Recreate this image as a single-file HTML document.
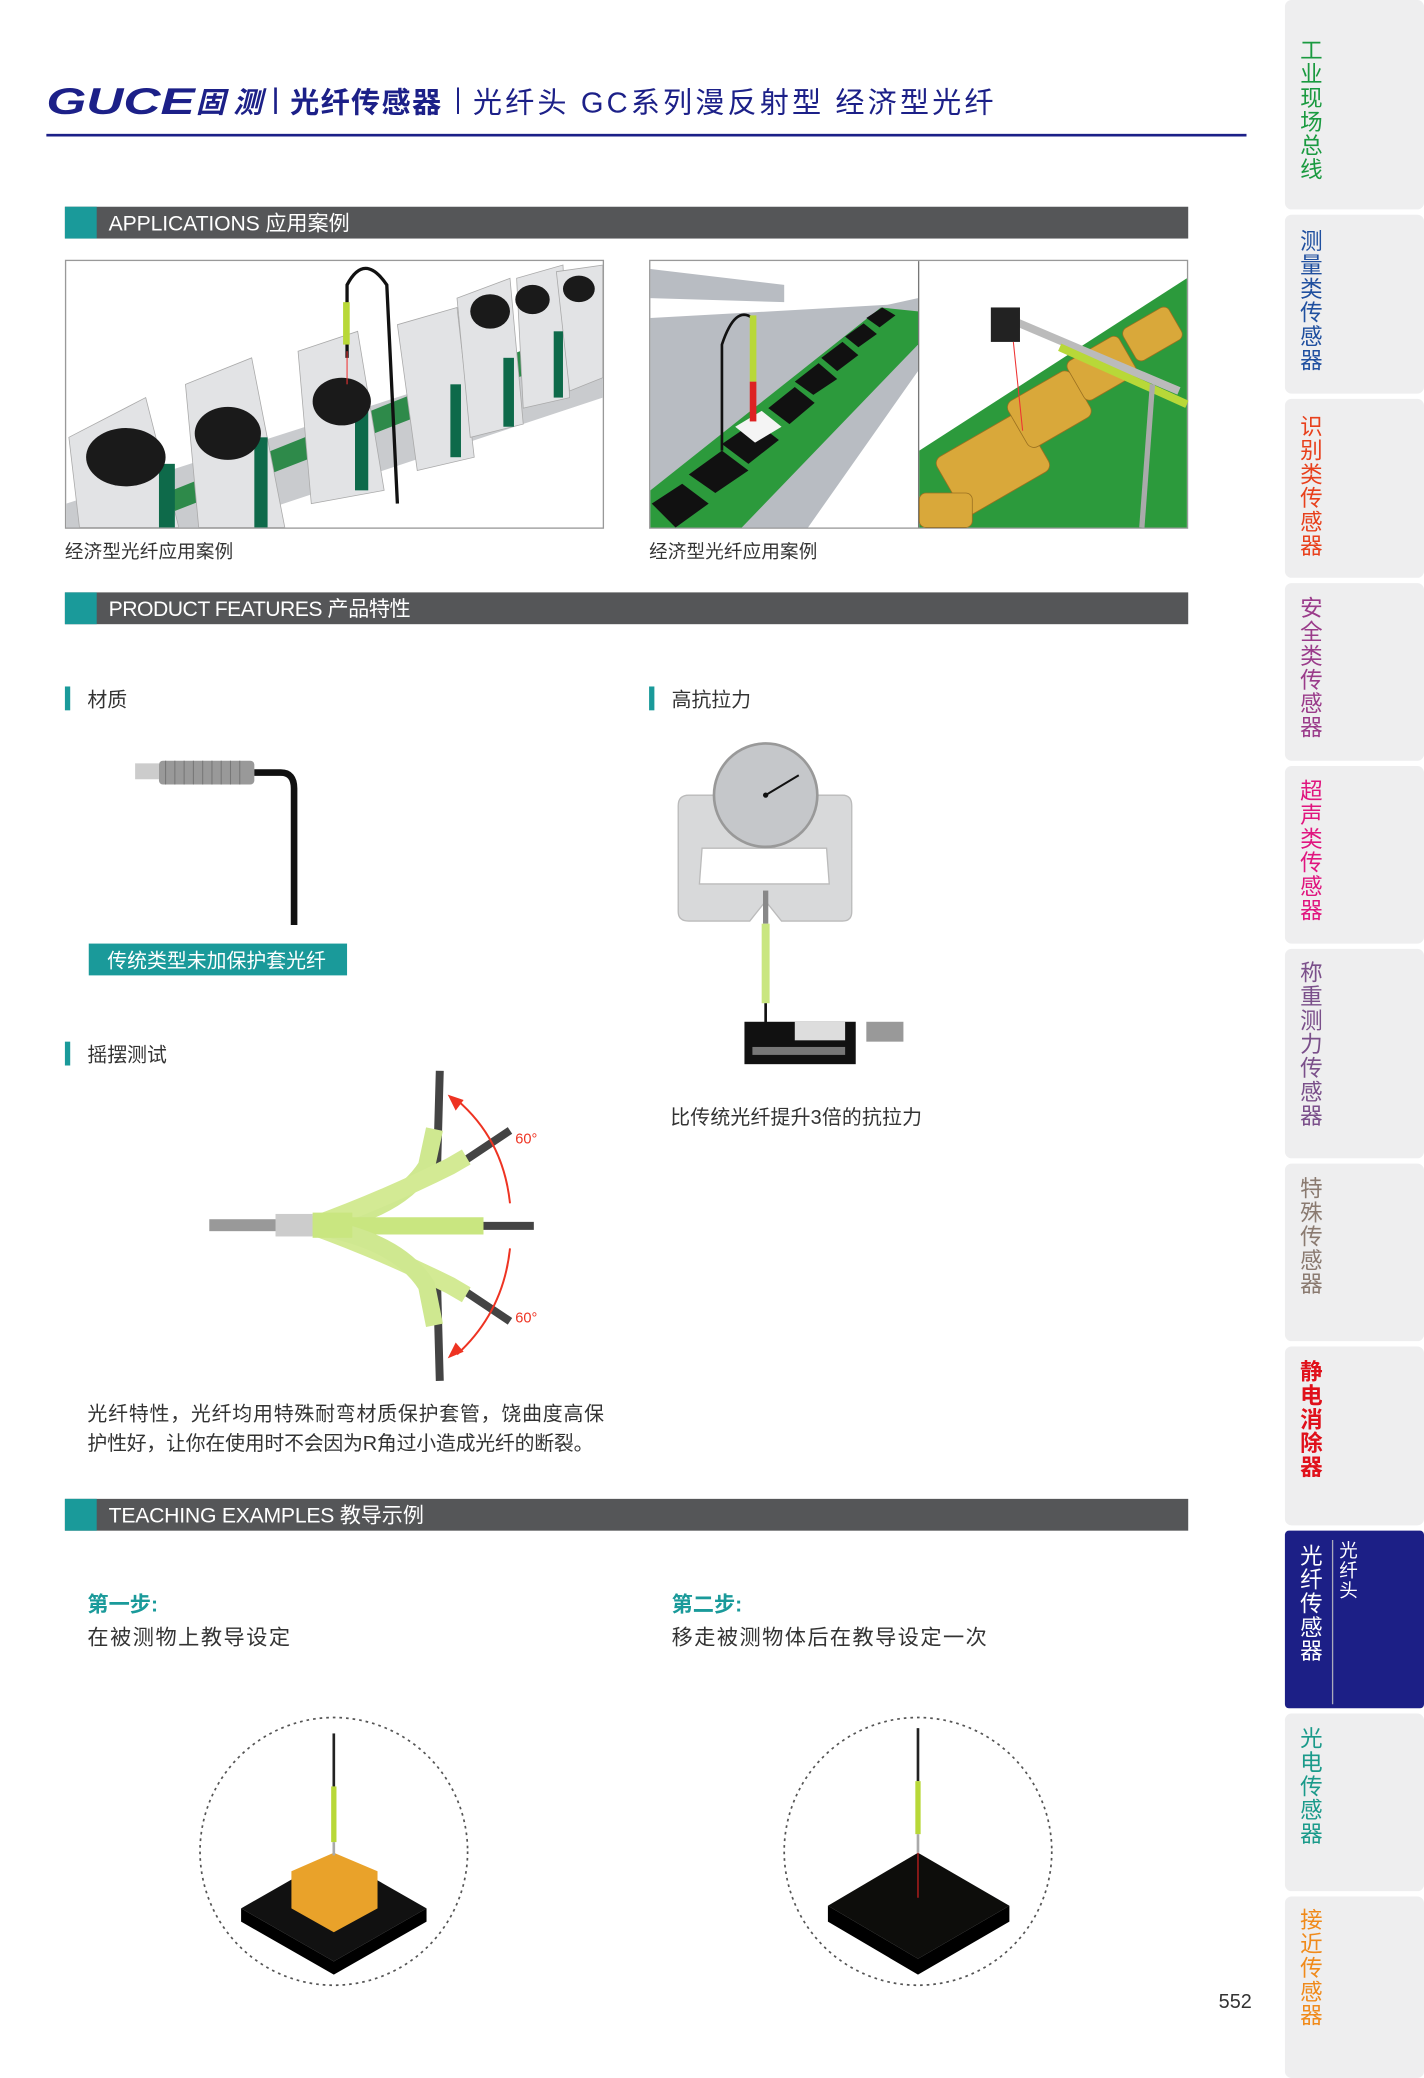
<!DOCTYPE html>
<html><head><meta charset="utf-8"><style>
html,body{margin:0;padding:0;background:#fff;}
svg{display:block;}
text{font-family:"Liberation Sans","Noto Sans CJK SC",sans-serif;}
</style></head><body>
<svg width="1424" height="2078" viewBox="0 0 1075 1568" preserveAspectRatio="none" xmlns="http://www.w3.org/2000/svg">
<rect width="1075" height="1568" fill="#fff"/>
<!-- header -->
<text x="35" y="86" font-size="28" font-weight="bold" font-style="italic" fill="#1c2088" textLength="112" lengthAdjust="spacingAndGlyphs">GUCE</text>
<text x="148" y="85" font-size="22" font-weight="bold" font-style="italic" fill="#1c2088" textLength="50">固测</text>
<rect x="207" y="66" width="2" height="20" fill="#1c2088"/>
<text x="219" y="85" font-size="22" font-weight="bold" fill="#1c2088" textLength="114">光纤传感器</text>
<rect x="345" y="66" width="1.5" height="20" fill="#1c2088"/>
<text x="357" y="85" font-size="22" fill="#1c2088" textLength="393">光纤头 GC系列漫反射型 经济型光纤</text>
<rect x="35" y="101" width="906" height="2" fill="#1c2088"/>

<!-- section bars -->
<g>
<rect x="49" y="156" width="848" height="24" fill="#555658"/><rect x="49" y="156" width="24" height="24" fill="#1a9a9a"/>
<text x="82" y="174" font-size="16" fill="#fff" textLength="182">APPLICATIONS 应用案例</text>
<rect x="49" y="447" width="848" height="24" fill="#555658"/><rect x="49" y="447" width="24" height="24" fill="#1a9a9a"/>
<text x="82" y="465" font-size="16" fill="#fff" textLength="228">PRODUCT FEATURES 产品特性</text>
<rect x="49" y="1131" width="848" height="24" fill="#555658"/><rect x="49" y="1131" width="24" height="24" fill="#1a9a9a"/>
<text x="82" y="1149" font-size="16" fill="#fff" textLength="238">TEACHING EXAMPLES 教导示例</text>
</g>

<!-- app image 1 -->
<rect x="49.5" y="196.5" width="406" height="202" fill="#fff" stroke="#999"/>
<polygon points="50,398 50,380 455,250 455,300 160,398" fill="#c9cbce"/>
<polygon points="60,398 455,240 455,260 100,398" fill="#2e8a4a"/>
<g fill="#e2e3e5" stroke="#aaa" stroke-width="0.6">
<polygon points="52,330 110,300 135,398 60,398"/>
<polygon points="140,290 190,270 215,398 150,398"/>
<polygon points="225,265 270,250 290,370 235,380"/>
<polygon points="300,245 345,232 358,345 315,355"/>
<polygon points="345,225 385,210 395,320 355,330"/>
<polygon points="390,210 425,200 430,300 395,308"/>
<polygon points="420,205 455,200 455,285 430,295"/>
</g>
<g fill="#0e6a4a"><rect x="120" y="350" width="12" height="48"/><rect x="192" y="330" width="10" height="68"/><rect x="268" y="310" width="10" height="60"/><rect x="340" y="290" width="8" height="55"/><rect x="380" y="270" width="8" height="52"/><rect x="418" y="250" width="7" height="50"/></g>
<g fill="#1a1a1a"><ellipse cx="95" cy="345" rx="30" ry="22"/><ellipse cx="172" cy="327" rx="25" ry="20"/><ellipse cx="258" cy="303" rx="22" ry="18"/><ellipse cx="370" cy="235" rx="15" ry="13"/><ellipse cx="402" cy="226" rx="13" ry="11"/><ellipse cx="437" cy="218" rx="12" ry="10"/></g>
<path d="M262,270 L262,215 Q275,190 292,215 L300,380" fill="none" stroke="#111" stroke-width="2.5"/>
<rect x="259" y="228" width="5" height="32" fill="#b8d838"/>
<line x1="262" y1="265" x2="262" y2="290" stroke="#e33" stroke-width="0.8"/>

<!-- app image 2 -->
<rect x="490.5" y="196.5" width="406" height="202" fill="#fff" stroke="#999"/>
<line x1="693.5" y1="197" x2="693.5" y2="398" stroke="#777"/>
<polygon points="491,203 592,215 592,228 491,225" fill="#b8bcc2"/>
<polygon points="491,240 670,230 693,225 693,280 610,398 491,398" fill="#b8bcc2"/>
<polygon points="491,398 491,370 665,232 693,235 693,260 560,398" fill="#2c9a3c"/>
<g fill="#111"><polygon points="492,380 515,365 535,380 510,398"/><polygon points="520,358 545,340 565,355 540,372"/><polygon points="545,335 570,318 588,332 565,350"/><polygon points="580,308 600,292 615,304 596,320"/><polygon points="600,288 618,274 632,286 614,298"/><polygon points="620,270 636,258 648,268 632,280"/><polygon points="638,254 652,244 662,252 648,262"/><polygon points="654,240 666,232 676,238 664,247"/></g>
<polygon points="555,322 575,310 590,322 570,334" fill="#f4f4f4"/>
<path d="M545,340 L545,260 Q555,230 568,240" fill="none" stroke="#111" stroke-width="2"/>
<rect x="566" y="238" width="5" height="50" fill="#b8d838"/>
<rect x="566" y="288" width="5" height="30" fill="#d22"/>
<!-- app image 3 -->
<polygon points="694,340 896,210 896,398 694,398" fill="#2c9a3c"/>
<g fill="#d9a83a" stroke="#9a7020" stroke-width="0.6">
<rect x="712" y="325" width="75" height="50" rx="6" transform="rotate(-30 750 350)"/>
<rect x="765" y="290" width="55" height="40" rx="6" transform="rotate(-30 790 310)"/>
<rect x="810" y="262" width="45" height="34" rx="5" transform="rotate(-30 830 280)"/>
<rect x="850" y="238" width="40" height="28" rx="5" transform="rotate(-30 870 252)"/>
<rect x="694" y="372" width="40" height="26" rx="5"/>
</g>
<line x1="760" y1="240" x2="890" y2="295" stroke="#bbb" stroke-width="6"/>
<line x1="800" y1="262" x2="896" y2="305" stroke="#b8d838" stroke-width="6"/>
<rect x="748" y="232" width="22" height="26" fill="#222"/>
<line x1="870" y1="290" x2="862" y2="398" stroke="#aaa" stroke-width="4"/>
<line x1="765" y1="258" x2="772" y2="325" stroke="#e33" stroke-width="0.8"/>

<text x="49" y="421" font-size="14" fill="#333" textLength="127">经济型光纤应用案例</text>
<text x="490" y="421" font-size="14" fill="#333" textLength="127">经济型光纤应用案例</text>

<!-- features -->
<rect x="49" y="518" width="4" height="18" fill="#1a9a9a"/><text x="66" y="533" font-size="15" fill="#333">材质</text>
<rect x="490" y="518" width="4" height="18" fill="#1a9a9a"/><text x="507" y="533" font-size="15" fill="#333">高抗拉力</text>
<rect x="102" y="576" width="18" height="12" fill="#ccc"/>
<rect x="120" y="574" width="72" height="18" rx="3" fill="#999"/>
<g stroke="#777" stroke-width="0.8"><line x1="125" y1="574" x2="125" y2="592"/><line x1="132" y1="574" x2="132" y2="592"/><line x1="139" y1="574" x2="139" y2="592"/><line x1="146" y1="574" x2="146" y2="592"/><line x1="153" y1="574" x2="153" y2="592"/><line x1="160" y1="574" x2="160" y2="592"/><line x1="167" y1="574" x2="167" y2="592"/><line x1="174" y1="574" x2="174" y2="592"/><line x1="181" y1="574" x2="181" y2="592"/></g>
<path d="M192,583 L212,583 Q222,583 222,595 L222,698" fill="none" stroke="#111" stroke-width="5"/>
<rect x="67" y="712" width="195" height="24" fill="#1a9a9a"/>
<text x="81" y="730" font-size="15" fill="#fff" textLength="165">传统类型未加保护套光纤</text>

<rect x="49" y="786" width="4" height="18" fill="#1a9a9a"/><text x="66" y="801" font-size="15" fill="#333">摇摆测试</text>
<!-- swing -->
<g fill="none" stroke-linecap="butt">
<path d="M235,925 Q300,915 330,880 L332,808" stroke="#444" stroke-width="6"/>
<path d="M235,925 Q290,900 352,875 L385,853" stroke="#444" stroke-width="6"/>
<path d="M235,925 L403,925" stroke="#444" stroke-width="6"/>
<path d="M235,925 Q290,950 352,975 L385,997" stroke="#444" stroke-width="6"/>
<path d="M235,925 Q300,935 330,970 L332,1042" stroke="#444" stroke-width="6"/>
<path d="M235,925 Q300,915 322,880 L328,852" stroke="#cfe890" stroke-width="13"/>
<path d="M235,925 Q290,905 340,880 L352,873" stroke="#d3ea94" stroke-width="13"/>
<path d="M235,925 L365,925" stroke="#c9e680" stroke-width="13"/>
<path d="M235,925 Q290,945 340,970 L352,977" stroke="#d3ea94" stroke-width="13"/>
<path d="M235,925 Q300,935 322,970 L328,1000" stroke="#cfe890" stroke-width="13"/>
<path d="M345,830 Q380,860 385,908" stroke="#e32" stroke-width="1.5"/>
<path d="M385,942 Q380,990 345,1022" stroke="#e32" stroke-width="1.5"/>
</g>
<polygon points="338,826 350,830 344,838" fill="#e32"/>
<polygon points="338,1025 350,1020 344,1013" fill="#e32"/>
<rect x="158" y="920" width="52" height="9" fill="#999"/>
<rect x="208" y="916" width="28" height="17" fill="#ccc"/>
<rect x="236" y="915" width="30" height="19" fill="#c9e680"/>
<text x="389" y="863" font-size="11" fill="#e32">60°</text>
<text x="389" y="998" font-size="11" fill="#e32">60°</text>
<text x="66" y="1072" font-size="15" fill="#333" textLength="390">光纤特性，光纤均用特殊耐弯材质保护套管，饶曲度高保</text>
<text x="66" y="1094" font-size="15" fill="#333" textLength="382">护性好，让你在使用时不会因为R角过小造成光纤的断裂。</text>

<!-- gauge -->
<path d="M520,600 L636,600 Q643,600 643,608 L643,688 Q643,695 636,695 L590,695 L578,680 L566,695 L520,695 Q512,695 512,688 L512,608 Q512,600 520,600 Z M530,640 L528,667 L626,667 L624,640 Z" fill="#d8d9da" fill-rule="evenodd" stroke="#bbb"/>
<circle cx="578" cy="600" r="39" fill="#c5c7ca" stroke="#999" stroke-width="2"/>
<line x1="578" y1="600" x2="603" y2="585" stroke="#111" stroke-width="1.5"/>
<circle cx="578" cy="600" r="2" fill="#111"/>
<rect x="576" y="672" width="4" height="25" fill="#888"/>
<rect x="575" y="697" width="6" height="60" fill="#c9e680"/>
<rect x="577" y="757" width="2" height="22" fill="#111"/>
<rect x="562" y="771" width="84" height="32" fill="#111"/>
<rect x="600" y="771" width="38" height="14" fill="#ddd"/>
<rect x="654" y="771" width="28" height="15" fill="#999"/>
<rect x="568" y="790" width="70" height="6" fill="#777"/>
<text x="506" y="848" font-size="15" fill="#333" textLength="190">比传统光纤提升3倍的抗拉力</text>

<!-- teaching -->
<text x="66" y="1216" font-size="16" font-weight="bold" fill="#1a9a9a">第一步:</text>
<text x="66" y="1241" font-size="16" fill="#333" textLength="153">在被测物上教导设定</text>
<text x="507" y="1216" font-size="16" font-weight="bold" fill="#1a9a9a">第二步:</text>
<text x="507" y="1241" font-size="16" fill="#333" textLength="238">移走被测物体后在教导设定一次</text>
<ellipse cx="252" cy="1397" rx="101" ry="101" fill="none" stroke="#555" stroke-width="1.3" stroke-dasharray="2,3"/>
<ellipse cx="693" cy="1397" rx="101" ry="101" fill="none" stroke="#555" stroke-width="1.3" stroke-dasharray="2,3"/>
<polygon points="182,1440 252,1400 322,1440 252,1480" fill="#111"/>
<polygon points="182,1440 252,1480 322,1440 322,1450 252,1490 182,1450" fill="#000"/>
<polygon points="220,1412 252,1398 285,1412 285,1440 252,1458 220,1440" fill="#e9a22a"/>
<rect x="251" y="1308" width="2" height="40" fill="#222"/><rect x="250" y="1348" width="4" height="42" fill="#b8d838"/><rect x="251" y="1390" width="2" height="10" fill="#aaa"/>
<polygon points="625,1438 693,1398 762,1438 693,1478" fill="#0d0d0b"/>
<polygon points="625,1438 693,1478 762,1438 762,1450 693,1490 625,1450" fill="#000"/>
<rect x="692" y="1304" width="2" height="40" fill="#222"/><rect x="691" y="1344" width="4" height="40" fill="#b8d838"/><rect x="692" y="1384" width="2" height="14" fill="#aaa"/>
<line x1="693" y1="1398" x2="693" y2="1432" stroke="#e22" stroke-width="0.8"/>
<text x="920" y="1515" font-size="15" fill="#333">552</text>

<!-- sidebar -->
<g fill="#eeeeef">
<rect x="970" y="0" width="105" height="158" rx="5"/>
<rect x="970" y="162" width="105" height="135" rx="5"/>
<rect x="970" y="301" width="105" height="135" rx="5"/>
<rect x="970" y="440" width="105" height="134" rx="5"/>
<rect x="970" y="578" width="105" height="134" rx="5"/>
<rect x="970" y="716" width="105" height="158" rx="5"/>
<rect x="970" y="878" width="105" height="134" rx="5"/>
<rect x="970" y="1016" width="105" height="135" rx="5"/>
<rect x="970" y="1293" width="105" height="134" rx="5"/>
<rect x="970" y="1431" width="105" height="137" rx="5"/>
</g>
<rect x="970" y="1155" width="105" height="134" rx="3" fill="#1c1f86"/>
<line x1="1006" y1="1162" x2="1006" y2="1286" stroke="#aab" stroke-width="1"/>
<g font-size="17" text-anchor="middle">
<text fill="#1a9a40"><tspan x="990" y="44">工</tspan><tspan x="990" y="62">业</tspan><tspan x="990" y="80">现</tspan><tspan x="990" y="98">场</tspan><tspan x="990" y="116">总</tspan><tspan x="990" y="134">线</tspan></text>
<text fill="#1f4f9f"><tspan x="990" y="188">测</tspan><tspan x="990" y="206">量</tspan><tspan x="990" y="224">类</tspan><tspan x="990" y="242">传</tspan><tspan x="990" y="260">感</tspan><tspan x="990" y="278">器</tspan></text>
<text fill="#e8401c"><tspan x="990" y="328">识</tspan><tspan x="990" y="346">别</tspan><tspan x="990" y="364">类</tspan><tspan x="990" y="382">传</tspan><tspan x="990" y="400">感</tspan><tspan x="990" y="418">器</tspan></text>
<text fill="#9a3b8a"><tspan x="990" y="465">安</tspan><tspan x="990" y="483">全</tspan><tspan x="990" y="501">类</tspan><tspan x="990" y="519">传</tspan><tspan x="990" y="537">感</tspan><tspan x="990" y="555">器</tspan></text>
<text fill="#e0157f"><tspan x="990" y="603">超</tspan><tspan x="990" y="621">声</tspan><tspan x="990" y="639">类</tspan><tspan x="990" y="657">传</tspan><tspan x="990" y="675">感</tspan><tspan x="990" y="693">器</tspan></text>
<text fill="#7a4f8a"><tspan x="990" y="740">称</tspan><tspan x="990" y="758">重</tspan><tspan x="990" y="776">测</tspan><tspan x="990" y="794">力</tspan><tspan x="990" y="812">传</tspan><tspan x="990" y="830">感</tspan><tspan x="990" y="848">器</tspan></text>
<text fill="#8a7a70"><tspan x="990" y="903">特</tspan><tspan x="990" y="921">殊</tspan><tspan x="990" y="939">传</tspan><tspan x="990" y="957">感</tspan><tspan x="990" y="975">器</tspan></text>
<text fill="#e0101a" font-weight="bold"><tspan x="990" y="1041">静</tspan><tspan x="990" y="1059">电</tspan><tspan x="990" y="1077">消</tspan><tspan x="990" y="1095">除</tspan><tspan x="990" y="1113">器</tspan></text>
<text fill="#fff"><tspan x="990" y="1180">光</tspan><tspan x="990" y="1198">纤</tspan><tspan x="990" y="1216">传</tspan><tspan x="990" y="1234">感</tspan><tspan x="990" y="1252">器</tspan></text>
<text fill="#1a9a8a"><tspan x="990" y="1318">光</tspan><tspan x="990" y="1336">电</tspan><tspan x="990" y="1354">传</tspan><tspan x="990" y="1372">感</tspan><tspan x="990" y="1390">器</tspan></text>
<text fill="#f08a1a"><tspan x="990" y="1455">接</tspan><tspan x="990" y="1473">近</tspan><tspan x="990" y="1491">传</tspan><tspan x="990" y="1509">感</tspan><tspan x="990" y="1527">器</tspan></text>
</g>
<text font-size="14" fill="#fff" text-anchor="middle"><tspan x="1018" y="1175">光</tspan><tspan x="1018" y="1190">纤</tspan><tspan x="1018" y="1205">头</tspan></text>
</svg>
</body></html>
